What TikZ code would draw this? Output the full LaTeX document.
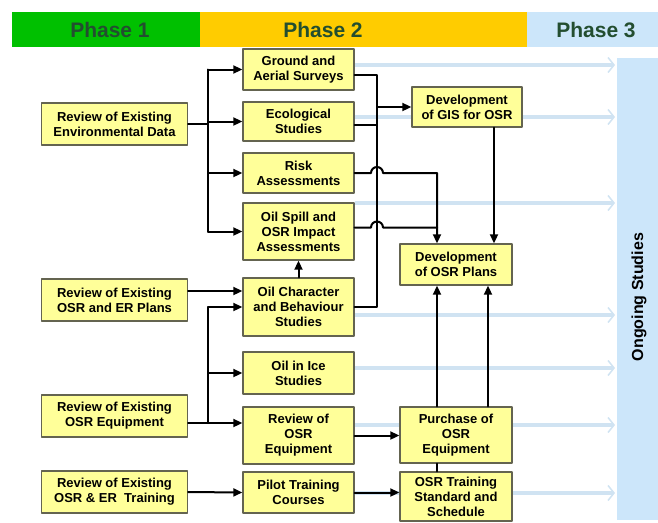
\documentclass[tikz,border=0pt]{standalone}
\usepackage{fontspec}
\setmainfont{Liberation Sans}
\usetikzlibrary{arrows.meta,calc,backgrounds}
\definecolor{phgreen}{RGB}{0,192,0}
\definecolor{phyellow}{RGB}{255,204,0}
\definecolor{phblue}{RGB}{204,230,250}
\definecolor{phtext}{RGB}{35,78,48}
\definecolor{boxfill}{RGB}{255,255,153}
\definecolor{boxline}{RGB}{100,100,80}
\definecolor{flowblue}{RGB}{208,227,242}

\begin{document}
\begin{tikzpicture}[line cap=round,line join=round,x=1pt,y=-1pt,
  >={Triangle[length=9pt,width=8pt]},
  phase/.style={fill=#1,minimum height=35pt,inner sep=0,anchor=north west},
  phasetext/.style={text=phtext,font=\fontsize{21}{24}\selectfont\bfseries},
  box/.style={draw=boxline,line width=1.4pt,fill=boxfill,inner sep=0,align=center,
    font=\fontsize{13}{15}\selectfont\bfseries},
  leftbox/.style={box,minimum width=146pt,minimum height=42pt},
  midbox/.style={box,minimum width=111pt},
  rightbox/.style={box,minimum width=112pt},
  conn/.style={line width=2pt},
  flow/.style={line width=4.5pt,color=flowblue,shorten >=2pt,
    -{Straight Barb[length=6pt,width=15pt,line width=1.5pt]}}]
\useasboundingbox (0,0) rectangle (658,522);
% phase bar
\node[phase=phgreen,minimum width=188pt] (ph1) at (12,12) {};
\node[phase=phyellow,minimum width=327pt] (ph2) at (200,12) {};
\node[phase=phblue,minimum width=131pt] (ph3) at (527,12) {};
\node[phasetext] (ph1txt) at (110,30) {Phase 1};
\node[phasetext] (ph2txt) at (323,30) {Phase 2};
\node[phasetext] (ph3txt) at (596,30) {Phase 3};
\node[fill=phblue,minimum width=41pt,minimum height=462pt,inner sep=0,anchor=north west] (ongoing) at (617,58) {};
\node[rotate=90,font=\fontsize{16}{18}\selectfont\bfseries] (ongtxt) at (639,297) {Ongoing Studies};

% phase 1
\node[leftbox] (env) at (114.5,124) {Review of Existing\\Environmental Data};
\node[leftbox] (plans) at (114.5,300) {Review of Existing\\OSR and ER Plans};
\node[leftbox] (equip) at (114.5,416) {Review of Existing\\OSR Equipment};
\node[leftbox] (train) at (114.5,492) {Review of Existing\\OSR \& ER\ \ Training};

% phase 2
\node[midbox,minimum height=41pt] (ground) at (298.5,69.5) {Ground and\\Aerial Surveys};
\node[midbox,minimum height=39pt] (eco) at (298.5,121.5) {Ecological\\Studies};
\node[midbox,minimum height=40pt] (risk) at (298.5,173) {Risk\\Assessments};
\node[midbox,minimum height=57pt] (spill) at (298.5,231.5) {Oil Spill and\\OSR Impact\\Assessments};
\node[midbox,minimum height=58pt] (char) at (298.5,307) {Oil Character\\and Behaviour\\Studies};
\node[midbox,minimum height=42pt] (ice) at (298.5,373) {Oil in Ice\\Studies};
\node[midbox,minimum height=57pt] (rev) at (298.5,435.5) {Review of\\OSR\\Equipment};
\node[midbox,minimum height=41pt] (pilot) at (298.5,492.5) {Pilot Training\\Courses};

\node[rightbox,minimum width=110pt,minimum height=40pt] (gis) at (467,107) {Development\\of GIS for OSR};
\node[rightbox,minimum height=41pt] (dev) at (456,264.5) {Development\\of OSR Plans};
\node[rightbox,minimum height=56pt] (purch) at (456,435) {Purchase of\\OSR\\Equipment};
\node[rightbox,minimum height=49pt] (osrt) at (456,496.5) {OSR Training\\Standard and\\Schedule};

% ongoing flows
\begin{scope}[on background layer]
\foreach \n/\y in {ground/65,eco/117,risk/203,char/315,ice/368,rev/425,pilot/493}
  \draw[flow] (\n.east |- 0,\y) -- (ongoing.west |- 0,\y);
\end{scope}

% phase 1 -> phase 2
\coordinate (ta) at (208,124);
\draw[conn] (env.east) -- (ta);
\draw[conn] (ta |- ground.west) -- (ta |- spill.west);
\foreach \n in {ground,eco,risk,spill}
  \draw[conn,->] (ta |- \n.west) -- (\n.west);
\draw[conn,->] ([yshift=9pt]plans.east) -- ([yshift=9pt]plans.east -| char.west);
\coordinate (tb) at (208,423);
\draw[conn,->] ([yshift=-7pt]equip.east) -- (tb) -- (tb -| rev.west);
\draw[conn] (tb) -- (tb |- char.west);
\draw[conn,->] (tb |- char.west) -- (char.west);
\draw[conn,->] (tb |- ice.west) -- (ice.west);
\draw[conn,->] (train.east) -- (pilot.west);

% within phase 2
\draw[conn,->] (char.north) -- (spill.south);
\coordinate (tc) at (377,107);
\draw[conn] ([yshift=-5pt]ground.east) -| (tc);
\draw[conn] ([yshift=-3pt]eco.east) -| (tc);
\draw[conn] (char.east) -| (tc);
\draw[conn,->] (tc) -- (gis.west);
\coordinate (td) at (437,0);
\coordinate (te) at (494,0);
\coordinate (tf) at (488,0);
\draw[conn,->] (risk.east) -- ($(tc |- risk.east)+(-6,0)$)
  arc[start angle=180,end angle=0,radius=6pt] -| (td |- dev.north);
\coordinate (spo) at ([yshift=4pt]spill.east);
\draw[conn] (spo) -- ($(tc |- spo)+(-6,0)$)
  arc[start angle=180,end angle=0,radius=6pt] -- (td |- spo);
\draw[conn,->] (te |- gis.south) -- (te |- dev.north);
\draw[conn,->] (rev.east) -- (rev.east -| purch.west);
\draw[conn,->] (pilot.east) -- (pilot.east -| osrt.west);
\draw[conn,->] (td |- purch.north) -- (td |- dev.south);
\draw[conn,->] (tf |- purch.north) -- (tf |- dev.south);
\draw[conn] (td |- osrt.north) -- (td |- purch.south);
\end{tikzpicture}
\end{document}
